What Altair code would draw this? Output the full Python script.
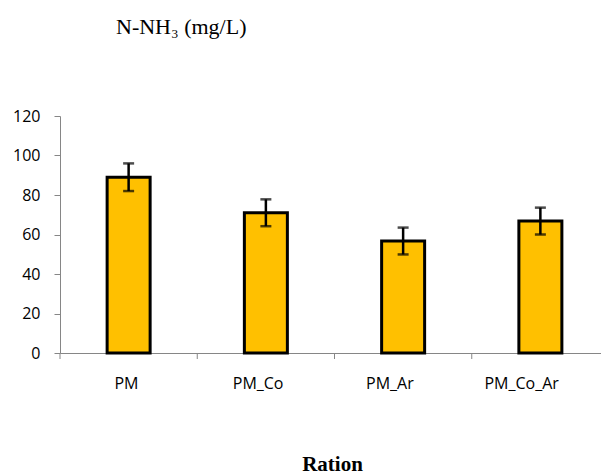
import altair as alt
import pandas as pd

categories = ["PM", "PM_Co", "PM_Ar", "PM_Co_Ar"]
values = [89, 71, 56.7, 66.8]
errors = [7, 6.8, 6.8, 6.8]

df = pd.DataFrame({"cat": categories, "val": values, "err": errors})
df["lo"] = df["val"] - df["err"]
df["hi"] = df["val"] + df["err"]

W, H = 541, 237

xsc = alt.Scale(domain=categories, paddingInner=0, paddingOuter=0, range=[0, 549])
xsc_lab = alt.Scale(domain=categories, paddingInner=0, paddingOuter=0, range=[0, 527])
y_sc = alt.Scale(domain=[0, 120])

x_axis = alt.Axis(title=None, labels=False, ticks=False, orient="bottom",
                  domainColor="#868686")
x_axis_lab = alt.Axis(title="Ration", labelAngle=0, ticks=False, domain=False, orient="bottom",
                      labelFont="Open Sans", labelFontSize=16, labelColor="#000",
                      labelPadding=22, titleX=272,
                      titleFont="Liberation Serif", titleFontSize=21,
                      titleFontWeight="bold", titleColor="#000", titlePadding=62)
y_axis = alt.Axis(title=None, values=[0, 20, 40, 60, 80, 100, 120], grid=False,
                  labelOverlap=False,
                  labelFont="Open Sans", labelFontSize=16, labelColor="#000",
                  domainColor="#868686", tickColor="#868686", tickSize=6,
                  labelPadding=14)

def X(**kw):
    return alt.X("cat:N", scale=xsc, sort=categories, axis=x_axis, **kw)

def Y(field):
    return alt.Y(field, scale=y_sc, axis=y_axis)

base = alt.Chart(df)

bars = base.mark_bar(size=43, color="#FFC000", stroke="#000", strokeWidth=3).encode(
    x=X(), y=Y("val:Q"),
)
rule = base.mark_rule(color="#000", strokeWidth=2.5).encode(
    x=X(), y=Y("lo:Q"), y2="hi:Q",
)
ticks_hi = base.mark_tick(color="#000", thickness=2.5, size=11, orient="horizontal").encode(
    x=X(), y=Y("hi:Q"),
)
ticks_lo = base.mark_tick(color="#000", thickness=2.5, size=11, orient="horizontal").encode(
    x=X(), y=Y("lo:Q"),
)
xticks = base.mark_rule(color="#868686", strokeWidth=1).encode(
    x=X(bandPosition=0),
    y=alt.value(H),
    y2=alt.value(H + 6),
)
main = alt.layer(bars, rule, ticks_hi, ticks_lo, xticks)

labels_layer = base.mark_point(opacity=0).encode(
    x=alt.X("cat:N", scale=xsc_lab, sort=categories, axis=x_axis_lab),
    y=alt.value(H),
)

chart = alt.layer(main, labels_layer).resolve_scale(x="independent").resolve_axis(x="independent").properties(
    width=W, height=H,
    background="white",
    autosize=alt.AutoSizeParams(type="none"),
    padding={"left": 60, "top": 116, "right": 0, "bottom": 121},
    title=alt.TitleParams("N-NH₃ (mg/L)", anchor="start", frame="group", dx=56, offset=52,
                          baseline="alphabetic",
                          font="Liberation Serif", fontSize=22, fontWeight="normal", color="#000"),
).configure_view(stroke=None)

chart.save("out.html", embed_options={"renderer": "svg", "actions": False})
